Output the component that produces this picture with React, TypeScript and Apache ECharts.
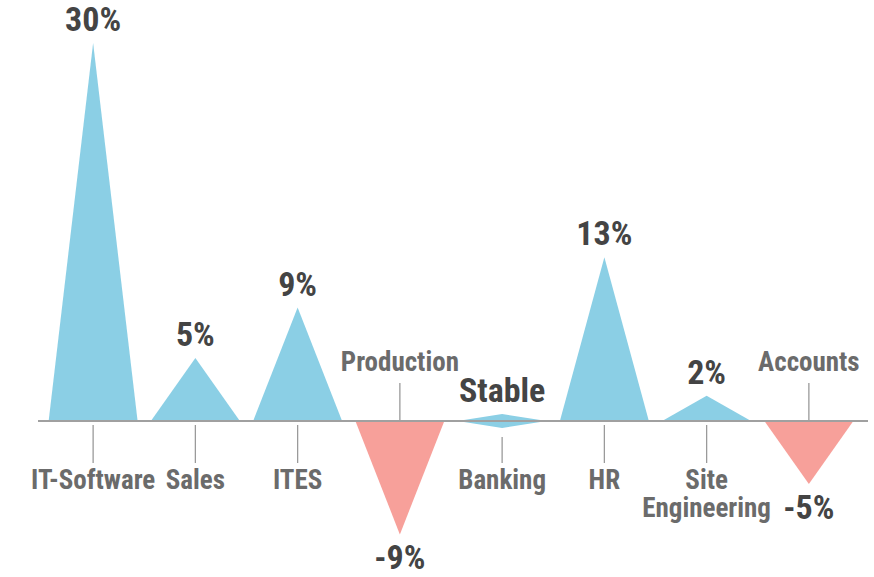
import React, { useEffect, useRef } from 'react';
import * as echarts from 'echarts';

const categories = ['IT-Software', 'Sales', 'ITES', 'Production', 'Banking', 'HR', 'Site\nEngineering', 'Accounts'];
const growth = [30, 5, 9, -9, 0, 13, 2, -5];
const valueLabels = ['30%', '5%', '9%', '-9%', 'Stable', '13%', '2%', '-5%'];
const stableSpread = 0.55;

const BLUE = '#8bcfe5';
const RED = '#f7a09a';
const FONT = '"Liberation Sans Narrow", "Roboto Condensed", "DejaVu Sans Condensed", Roboto, sans-serif';

export default function App() {
  const ref = useRef<HTMLDivElement>(null);
  useEffect(() => {
    document.body.style.margin = '0';
    const chart = echarts.init(ref.current!, null, { renderer: 'svg' });

    const renderItem = (params: any, api: any) => {
      const idx = params.dataIndex;
      const i = api.value(0);
      const v = api.value(1);
      const base = api.coord([i, 0]);
      const w = api.size([1, 0])[0] * 0.87;
      const x = base[0];
      const y0 = base[1];
      const children: any[] = [];
      let tipY: number;
      if (v === 0) {
        const up = api.coord([i, stableSpread])[1];
        const dn = api.coord([i, -stableSpread])[1];
        children.push({ type: 'polygon', shape: { points: [[x - w / 2, y0], [x, up], [x + w / 2, y0], [x, dn]] }, style: { fill: BLUE } });
        tipY = up;
      } else {
        const tip = api.coord([i, v])[1];
        children.push({ type: 'polygon', shape: { points: [[x - w / 2, y0], [x, tip], [x + w / 2, y0]] }, style: { fill: v > 0 ? BLUE : RED } });
        tipY = tip;
      }
      const labelY = v >= 0 ? tipY - 24 : tipY + 23;
      children.push({
        type: 'text',
        style: { text: valueLabels[idx], x, y: labelY, align: 'center', verticalAlign: 'middle', fill: '#444444', font: `bold 34px ${FONT}` },
      });
      const text = categories[idx];
      const nLines = text.split('\n').length;
      const extra = (nLines - 1) * 14;
      const catStyle = { align: 'center', verticalAlign: 'middle', fill: '#6b6b6b', font: `bold 27px ${FONT}`, lineHeight: 28 };
      if (v >= 0) {
        const t0 = v === 0 ? y0 + 16 : y0 + 4;
        children.push({ type: 'line', shape: { x1: x, y1: t0, x2: x, y2: y0 + 42 }, style: { stroke: '#9a9a9a', lineWidth: 1.3 } });
        children.push({ type: 'text', style: { ...catStyle, text, x, y: y0 + 59 + extra } });
      } else {
        children.push({ type: 'line', shape: { x1: x, y1: y0 - 38, x2: x, y2: y0 }, style: { stroke: '#9a9a9a', lineWidth: 1.3 } });
        children.push({ type: 'text', style: { ...catStyle, text, x, y: y0 - 59 - extra } });
      }
      if (idx === 0) {
        const cs = params.coordSys;
        children.push({ type: 'line', z2: 10, shape: { x1: cs.x - 4, y1: y0, x2: cs.x + cs.width + 8, y2: y0 }, style: { stroke: '#a0a0a0', lineWidth: 2 } });
      }
      return { type: 'group', children };
    };

    chart.setOption({
      animation: false,
      grid: { left: 42, right: 14, top: 30.4, bottom: 4.8 },
      xAxis: {
        type: 'category',
        data: categories,
        axisLine: { show: false },
        axisTick: { show: false },
        axisLabel: { show: false },
      },
      yAxis: { type: 'value', min: -12, max: 31, show: false, splitLine: { show: false } },
      series: [
        {
          type: 'custom',
          clip: false,
          renderItem,
          data: growth.map((g, i) => [i, g]),
        },
      ],
    });
    return () => chart.dispose();
  }, []);
  return <div ref={ref} style={{ width: 874, height: 577 }} />;
}
